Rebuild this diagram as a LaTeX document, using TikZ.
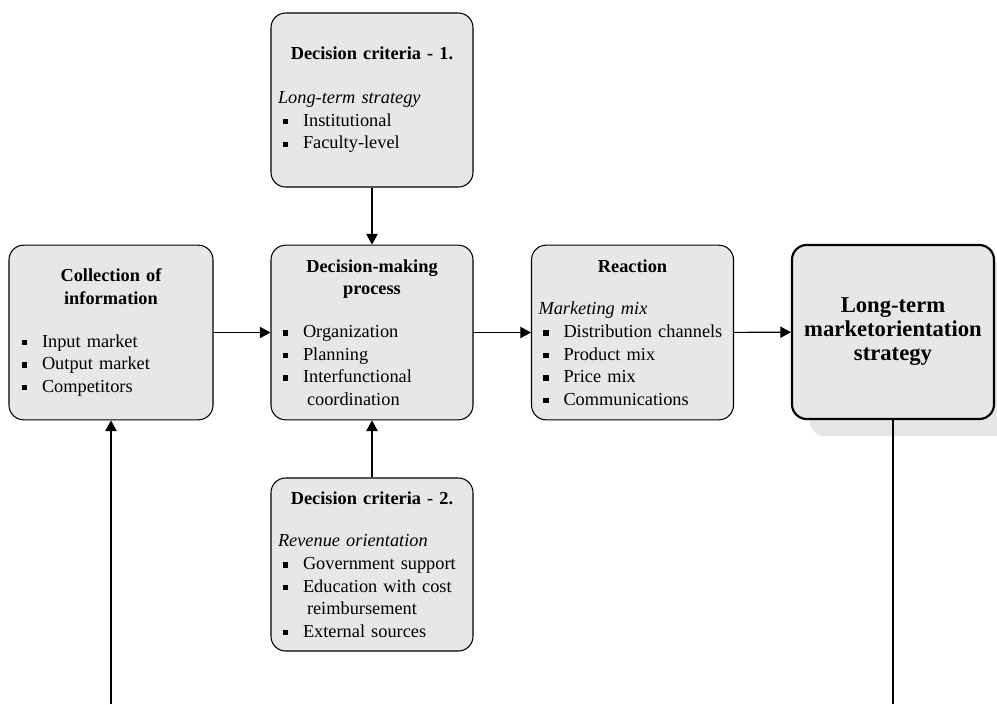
\documentclass[tikz,border=0pt]{standalone}
\usepackage{fontspec}
\setmainfont{Liberation Serif}
\usepackage{xcolor}
\definecolor{boxgrey}{RGB}{231,231,231}
\definecolor{shadegrey}{RGB}{229,229,229}
\usetikzlibrary{arrows.meta,shadows}
\newcommand{\bitem}[1]{\hspace*{3.5pt}\makebox[15.25pt][l]{\rule[1.5pt]{4pt}{4pt}}#1}
\newcommand{\bcont}[1]{\hspace*{21.75pt}#1}
\newcommand{\btitle}[1]{{\centering\bfseries #1\par}}
\tikzset{
  stage/.style={draw,rounded corners=11pt,fill=boxgrey,line width=0.8pt,minimum width=151.5pt,minimum height=131pt,text width=141pt,align=left,inner sep=5.25pt,font=\fontsize{13.75}{16.9}\selectfont},
  goal/.style={draw,rounded corners=11pt,fill=boxgrey,line width=1.6pt,minimum width=151.5pt,minimum height=130.5pt,align=center,font=\fontsize{17}{18}\selectfont\bfseries,drop shadow={shadow xshift=13.5pt,shadow yshift=-12.75pt,fill=shadegrey,opacity=1}},
  arr/.style={-{Triangle[length=8pt,width=8.5pt]},line width=0.8pt},
  line/.style={line width=0.8pt},
}

\begin{document}
\begin{tikzpicture}[x=0.75pt,y=-0.75pt]
    \useasboundingbox (0,0) rectangle (997,704);
    \node[stage,minimum height=130.5pt] (crit1) at (372,100) {\btitle{Decision criteria - 1.}\vspace{16pt}
      \textit{Long-term strategy}\\ \bitem{Institutional}\\ \bitem{Faculty-level}};
    \node[stage,minimum width=153pt] (coll) at (111,332.5) {\btitle{Collection of\\ information}\vspace{15pt}
      \bitem{Input market}\\ \bitem{Output market}\\ \bitem{Competitors}};
    \node[stage] (dmp) at (372,332.5) {\btitle{Decision-making\\ process}\vspace{15pt}
      \bitem{Organization}\\ \bitem{Planning}\\ \bitem{Interfunctional}\\ \bcont{coordination}};
    \node[stage] (react) at (632.5,332.5) {\btitle{Reaction}\vspace{15pt}
      \textit{Marketing mix}\\ \bitem{Distribution channels}\\ \bitem{Product mix}\\ \bitem{Price mix}\\ \bitem{Communications}};
    \node[goal] (strat) at (893,332) {Long-term\\ marketorientation\\ strategy};
    \node[stage,minimum height=129.75pt] (crit2) at (372,564.5) {\btitle{Decision criteria - 2.}\vspace{15pt}
      \textit{Revenue orientation}\\ \bitem{Government support}\\ \bitem{Education with cost}\\ \bcont{reimbursement}\\ \bitem{External sources}};
    \coordinate (inlet) at (111,704);
    \coordinate (outlet) at (893,704);
    \draw[arr] (crit1) -- (dmp);
    \draw[arr] (crit2) -- (dmp);
    \draw[arr] (coll) -- (dmp);
    \draw[arr] (dmp) -- (react);
    \draw[arr] (react) -- (strat);
    \draw[arr] (inlet) -- (coll);
    \draw[line] (strat) -- (outlet);
  \end{tikzpicture}
\end{document}
